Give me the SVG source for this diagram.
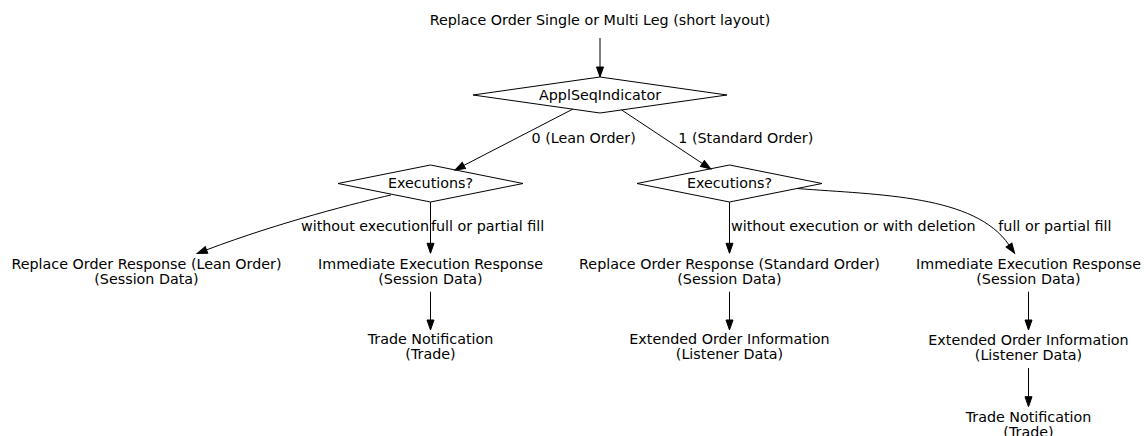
<svg xmlns="http://www.w3.org/2000/svg" width="1144" height="436" viewBox="0 0 1144 436">
<style>
text{font-family:"DejaVu Sans","Liberation Sans",sans-serif;font-size:14.3px;fill:#000}
.m{text-anchor:middle}
.s{text-anchor:start}
.e{text-anchor:end}
.shape{fill:none;stroke:#000;stroke-width:1}
.edge{fill:none;stroke:#000;stroke-width:1;marker-end:url(#arr)}
</style>
<defs>
<marker id="arr" markerUnits="userSpaceOnUse" markerWidth="10" markerHeight="7" refX="0" refY="3.5" orient="auto" overflow="visible">
<path d="M0,0 L10,3.5 L0,7 Z" fill="#000" stroke="#000" stroke-width="1"/>
</marker>
</defs>
<rect width="1144" height="436" fill="#fff"/>
<g id="connectors">
<path class="edge" d="M600,38 L600,67"/>
<path class="edge" d="M573,109 L463.9,165.4"/>
<path class="edge" d="M621.7,110 L702.4,163.5"/>
<path class="edge" d="M391,195 C360,202 280,222 206.5,249.9"/>
<path class="edge" d="M430.5,202 L430.5,243.3"/>
<path class="edge" d="M430.5,291.7 L430.5,320"/>
<path class="edge" d="M729.5,202 L729.5,243.3"/>
<path class="edge" d="M729.5,291.7 L729.5,320"/>
<path class="edge" d="M797,188.5 C880,195 975,195 1009,245"/>
<path class="edge" d="M1028.5,291.7 L1028.5,320"/>
<path class="edge" d="M1028.5,368 L1028.5,396.7"/>
<text class="s" x="531.5" y="142.5">0 (Lean Order)</text>
<text class="s" x="678.3" y="142.5">1 (Standard Order)</text>
<text class="e" x="429" y="230.5">without execution</text>
<text class="s" x="431" y="230.5">full or partial fill</text>
<text class="s" x="731" y="230.5">without execution or with deletion</text>
<text class="s" x="998.3" y="230.5">full or partial fill</text>
</g>
<g id="start">
<text class="m" x="600" y="25">Replace Order Single or Multi Leg (short layout)</text>
</g>
<g id="applseq">
<polygon class="shape" points="600,77 727,95 600,113 473,95"/>
<text class="m" x="600" y="99.5">ApplSeqIndicator</text>
</g>
<g id="exec_lean">
<polygon class="shape" points="430.5,165 523,183.5 430.5,202 338,183.5"/>
<text class="m" x="430.5" y="187.5">Executions?</text>
</g>
<g id="exec_std">
<polygon class="shape" points="729.5,165 822,183.5 729.5,202 637,183.5"/>
<text class="m" x="729.5" y="187.5">Executions?</text>
</g>
<g id="replace_resp_lean">
<text class="m" x="146.5" y="269">Replace Order Response (Lean Order)</text>
<text class="m" x="146.5" y="284">(Session Data)</text>
</g>
<g id="imm_exec_lean">
<text class="m" x="430.5" y="269">Immediate Execution Response</text>
<text class="m" x="430.5" y="284">(Session Data)</text>
</g>
<g id="trade_lean">
<text class="m" x="430.5" y="344">Trade Notification</text>
<text class="m" x="430.5" y="359">(Trade)</text>
</g>
<g id="replace_resp_std">
<text class="m" x="729.5" y="269">Replace Order Response (Standard Order)</text>
<text class="m" x="729.5" y="284">(Session Data)</text>
</g>
<g id="ext_order_std">
<text class="m" x="729.5" y="344">Extended Order Information</text>
<text class="m" x="729.5" y="359">(Listener Data)</text>
</g>
<g id="imm_exec_std">
<text class="m" x="1028.5" y="269">Immediate Execution Response</text>
<text class="m" x="1028.5" y="284">(Session Data)</text>
</g>
<g id="ext_order_fill">
<text class="m" x="1028.5" y="344.5">Extended Order Information</text>
<text class="m" x="1028.5" y="359.5">(Listener Data)</text>
</g>
<g id="trade_std">
<text class="m" x="1028.5" y="421.7">Trade Notification</text>
<text class="m" x="1028.5" y="436.7">(Trade)</text>
</g>
</svg>
